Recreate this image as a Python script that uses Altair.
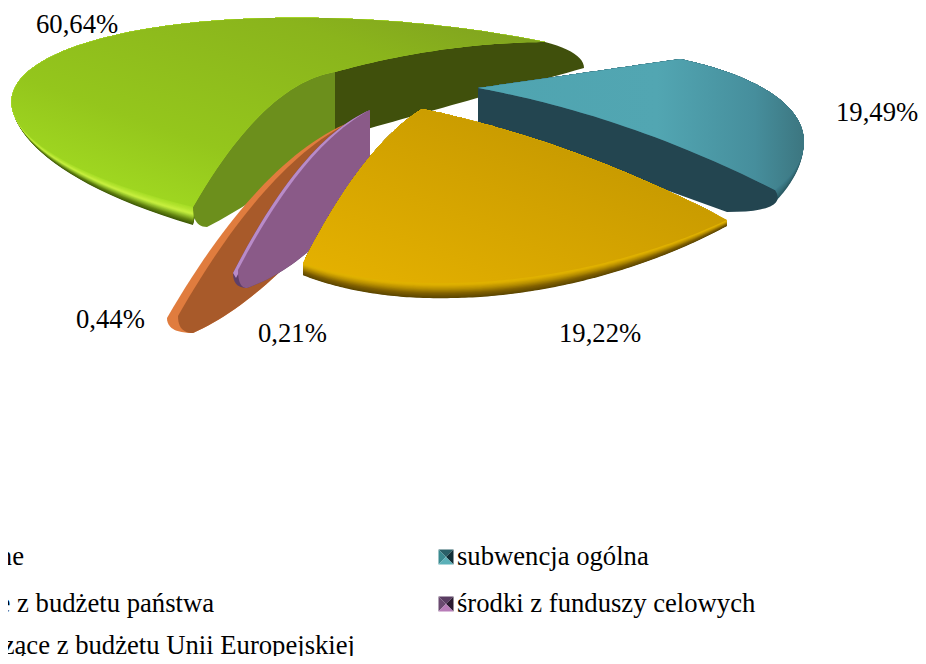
import math
import numpy as np
import altair as alt

# ---- values
categories = ["dochody własne", "subwencja ogólna", "dotacje z budżetu państwa",
              "środki z funduszy celowych", "środki pochodzące z budżetu Unii Europejskiej"]
shares = [60.64, 19.49, 19.22, 0.21, 0.44]
share_labels = ["60,64%", "19,49%", "19,22%", "0,21%", "0,44%"]
label_x = [36, 836, 559, 258, 76]
label_y = [33, 121, 342, 342, 328]

FONT = "Liberation Serif"
FS = 26.67
START = 70.0  # first angle of the teal slice, degrees clockwise from north

# angular spans derived from the shares
spans = {}
a = START
for i in [1, 2, 3, 4, 0]:
    d = shares[i] * 3.6
    spans[i] = (a, a + d)
    a += d


def unit(t):
    r = math.radians(t)
    return (math.sin(r), -math.cos(r))


def homography(src, dst):
    A, b = [], []
    for (u, v), (x, y) in zip(src, dst):
        A.append([u, v, 1, 0, 0, 0, -u * x, -v * x]); b.append(x)
        A.append([0, 0, 0, u, v, 1, -u * y, -v * y]); b.append(y)
    h = np.linalg.solve(np.array(A, float), np.array(b, float))
    return np.append(h, 1).reshape(3, 3)


class Slice:
    def __init__(self, idx, apex, e1, mid, e2, bends):
        self.t1, self.t2 = spans[idx]
        tm = (self.t1 + self.t2) / 2
        self.apex = apex
        self.H = homography([(0, 0), unit(self.t1), unit(tm), unit(self.t2)], [apex, e1, mid, e2])
        self.bends = bends

    def raw(self, r, t):
        u, v = unit(t)
        p = self.H @ np.array([u * r, v * r, 1.0])
        return p[0] / p[2], p[1] / p[2]

    def pt(self, r, t):
        x, y = self.raw(r, t)
        rx, ry = self.raw(1, t)
        q = math.hypot(x - self.apex[0], y - self.apex[1]) / max(1e-6, math.hypot(rx - self.apex[0], ry - self.apex[1]))
        f = (t - self.t1) / (self.t2 - self.t1)
        b = self.bends[0] * (1 - f) + self.bends[1] * f
        return (x, y - b * 4 * q * (1 - q))

    def face(self, shift=lambda x, y: 0.0):
        n = 120
        pts = [self.pt(i / 40, self.t1) for i in range(40)]
        for i in range(n + 1):
            x, y = self.pt(1, self.t1 + (self.t2 - self.t1) * i / n)
            pts.append((x, y + shift(x, y)))
        pts += [self.pt(1 - i / 40, self.t2) for i in range(1, 41)]
        return pts

    def edge(self, t):
        return [self.pt(i / 40, t) for i in range(41)]


def bent(p, q, b, n=30):
    return [(p[0] + (q[0] - p[0]) * i / n,
             p[1] + (q[1] - p[1]) * i / n - b * 4 * (i / n) * (1 - i / n)) for i in range(n + 1)]


def wall(top, d0, d1, ctrl, bb):
    """Cut face: top edge (apex->rim), a rounded end, then the lower edge back."""
    A, E = top[0], top[-1]
    B0 = (A[0] + d0[0], A[1] + d0[1])
    B1 = (E[0] + d1[0], E[1] + d1[1])
    C = (E[0] + d1[0] * ctrl[0], E[1] + d1[1] * ctrl[1])
    end = []
    for i in range(1, 13):
        s = i / 12
        end.append(((1 - s) ** 2 * E[0] + 2 * s * (1 - s) * C[0] + s * s * B1[0],
                    (1 - s) ** 2 * E[1] + 2 * s * (1 - s) * C[1] + s * s * B1[1]))
    return list(top) + end + bent(B1, B0, bb)


def feat(pts, c="#000"):
    ring = [[float(x), float(y)] for x, y in pts]
    ring.append(ring[0])
    return {"type": "Feature", "properties": {"c": c},
            "geometry": {"type": "Polygon", "coordinates": [ring]}}


def shape(features, fill=None):
    data = alt.InlineData(values=features)
    if fill is None:
        ch = alt.Chart(data).mark_geoshape(strokeWidth=0, stroke="transparent").encode(
            fill=alt.Fill("properties.c:N", scale=None))
    else:
        ch = alt.Chart(data).mark_geoshape(strokeWidth=0, stroke="transparent", fill=fill)
    return ch.project(type="identity", scale=1, translate=[-8, -8])


def grad(x1, y1, x2, y2, stops):
    return alt.Gradient(gradient="linear", x1=x1, y1=y1, x2=x2, y2=y2,
                        stops=[alt.GradientStop(offset=o, color=c) for o, c in stops])


def mix(c1, c2, f):
    a = [int(c1[i:i + 2], 16) for i in (1, 3, 5)]
    b = [int(c2[i:i + 2], 16) for i in (1, 3, 5)]
    return "#%02x%02x%02x" % tuple(round(x + (y - x) * f) for x, y in zip(a, b))


def ramp(sl, y0, y1, th, stops, n=24):
    """stops: (s, colour) with s falling from 1 (outer edge) towards 0."""
    out = []
    for k in range(n):
        s = 1 - k / n
        for (s1, c1), (s2, c2) in zip(stops, stops[1:]):
            if s2 <= s <= s1:
                c = mix(c1, c2, (s1 - s) / (s1 - s2))
                break
        f = lambda x, y, s=s: s * th * min(1.0, max(0.0, (y - y0) / (y1 - y0)))
        out.append(feat(sl.face(f), c))
    return out


layers = []

# green
green = Slice(0, (335, 72), (193, 207), (140, 30), (545, 42), (28, 7))
layers.append(shape(ramp(green, 115, 207, 18, [
    (1, "#3f5a08"), (.8, "#5f8010"), (.55, "#a0cc30"), (.4, "#c8f040"), (.2, "#b4e430"), (0, "#a4dc24")])))
layers.append(shape([
    feat(wall(green.edge(green.t2), (0, 66), (39, 26), (1.0, 0.4), 0), "#40500c"),
    feat(wall(green.edge(green.t1), (0, 65), (14, 20), (0.0, 1.0), -6), "#6c8f1c"),
]))
layers.append(shape([feat(green.face())], grad(0, 1, 1, 0, [
    (0, "#a8e424"), (.35, "#94c61c"), (.75, "#8ab41c"), (1, "#7e9e20")])))

# teal
teal = Slice(1, (478, 88), (680, 59), (778, 98), (775, 190), (0, 12))
layers.append(shape(ramp(teal, 140, 190, 12, [(1, "#2a5a64"), (.5, "#37707a"), (0, "#3f8090")], 10)))
layers.append(shape([feat(wall(teal.edge(teal.t2), (0, 34), (-48, 22), (-0.3, 1.0), 0), "#234550")]))
layers.append(shape([feat(teal.face())], grad(0, 0, 1, 0, [
    (0, "#4fa4b0"), (.55, "#52a6b2"), (.85, "#468e9c"), (1, "#3c7680")])))

# orange (thin slice): light silhouette, darker cut face on top
oa = (350, 122)
o_out = bent(oa, (167, 318), 30)
o_in = bent(oa, (178, 316), 27)
layers.append(shape([feat(wall(o_out, (0, 68), (26, 15), (0.0, 1.0), -18), "#e07c3e"),
                     feat(wall(o_in, (0, 68), (15, 17), (0.0, 1.0), -18), "#a85a2a")]))

# purple (thin slice)
pa = (370, 110)
p_out = bent(pa, (233, 273), 26)
p_in = bent(pa, (238, 270), 23)
layers.append(shape([feat(wall(p_out, (0, 75), (14, 15), (0.0, 1.0), -15), "#5f3f68"),
                     feat(p_out + bent((236, 278), pa, 23), "#b88bc8"),
                     feat(wall(p_in, (0, 75), (9, 18), (0.0, 1.0), -15), "#8a5a88")]))

# yellow
yellow = Slice(2, (422, 109), (727, 220), (480, 282), (303, 263), (12, 20))
layers.append(shape(ramp(yellow, 180, 282, 15, [
    (1, "#5c4600"), (.7, "#806000"), (.4, "#b89000"), (.15, "#dcae00"), (0, "#e2b400")])))
layers.append(shape([feat(yellow.face())], grad(0, 1, 1, 0, [
    (0, "#e6b200"), (.5, "#d2a200"), (1, "#bc9200")])))

# legend markers


def marker(cx, cy, cols):
    h = 7.5
    c = (cx, cy)
    tl, tr, br, bl = (cx - h, cy - h), (cx + h, cy - h), (cx + h, cy + h), (cx - h, cy + h)
    return [feat([tl, tr, c], cols[0]), feat([tl, bl, c], cols[1]),
            feat([tr, br, c], cols[2]), feat([bl, br, c], cols[3])]


layers.append(shape(marker(446, 557, ["#2a6068", "#3a8a90", "#123038", "#5bb0b8"]) +
                    marker(446, 604, ["#5a3d62", "#6a4a70", "#2a1a30", "#b87cb8"])))


def texts(rows, align):
    return alt.Chart(alt.Data(values=rows)).mark_text(
        font=FONT, fontSize=FS, align=align, baseline="alphabetic", color="#000"
    ).encode(x=alt.X("x:Q", scale=None), y=alt.Y("y:Q", scale=None), text="t:N")


layers.append(texts([{"t": t, "x": x - 8, "y": y - 8}
                     for t, x, y in zip(share_labels, label_x, label_y)], "left"))
layers.append(texts([{"t": categories[1], "x": 457 - 8, "y": 565 - 8},
                     {"t": categories[3], "x": 457 - 8, "y": 612 - 8}], "left"))
layers.append(texts([{"t": categories[0], "x": 24 - 8, "y": 565 - 8},
                     {"t": categories[2], "x": 214 - 8, "y": 612 - 8},
                     {"t": categories[4], "x": 355 - 8, "y": 654 - 8}], "right"))

chart = alt.layer(*layers).properties(
    width=910, height=648, padding=0, autosize=alt.AutoSizeParams(type="none"),
    background="#ffffff"
).configure_view(stroke=None)

chart.save("out.html", embed_options={"renderer": "svg", "actions": False})
